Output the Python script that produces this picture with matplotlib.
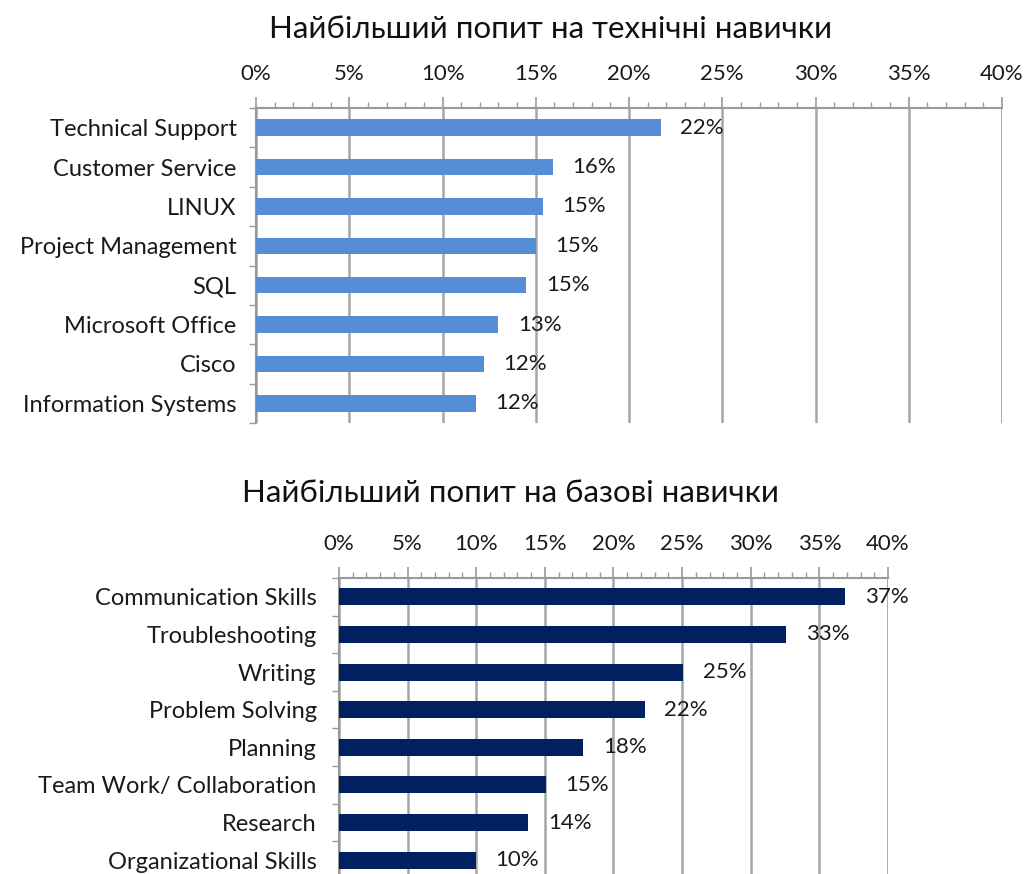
import numpy as np
import matplotlib.pyplot as plt
from matplotlib.ticker import MultipleLocator, FuncFormatter

plt.rcParams['font.family'] = ['Lato', 'DejaVu Sans']

tech_skills = ["Technical Support", "Customer Service", "LINUX", "Project Management",
               "SQL", "Microsoft Office", "Cisco", "Information Systems"]
tech_values = [21.7, 15.9, 15.4, 15.0, 14.5, 13.0, 12.2, 11.8]
tech_labels = ["22%", "16%", "15%", "15%", "15%", "13%", "12%", "12%"]

base_skills = ["Communication Skills", "Troubleshooting", "Writing", "Problem Solving",
               "Planning", "Team Work/ Collaboration", "Research", "Organizational Skills"]
base_values = [36.9, 32.6, 25.1, 22.3, 17.8, 15.1, 13.8, 10.0]
base_labels = ["37%", "33%", "25%", "22%", "18%", "15%", "14%", "10%"]

tech_title = "Найбільший попит на технічні навички"
base_title = "Найбільший попит на базові навички"

fs = 17
fig = plt.figure(figsize=(10.25, 8.74), dpi=100)


def draw(ax, names, vals, labs, color, bh, ypad):
    y = np.arange(len(names))
    ax.barh(y, vals, height=bh, color=color, zorder=3)
    for yi, v, t in zip(y, vals, labs):
        ax.annotate(t, (v, yi), xytext=(14, 0), textcoords='offset points',
                    va='center', ha='left', fontsize=fs - 1, color='#1a1a1a', zorder=4)
    ax.set_xlim(0, 40)
    ax.set_ylim(len(names) - 0.5, -0.5)
    ax.xaxis.tick_top()
    ax.xaxis.set_major_locator(MultipleLocator(5))
    ax.xaxis.set_minor_locator(MultipleLocator(1))
    ax.xaxis.set_major_formatter(FuncFormatter(lambda v, p: f"{v:.0f}%"))
    ax.tick_params(axis='x', which='major', length=8, width=1.2, color='#999999',
                   labelsize=fs - 1, labelcolor='#1a1a1a', pad=9)
    ax.tick_params(axis='x', which='minor', length=4, width=1, color='#999999')
    ax.set_yticks(y)
    ax.set_yticklabels(names)
    ax.set_yticks(np.arange(len(names) + 1) - 0.5, minor=True)
    ax.tick_params(axis='y', which='major', length=0, labelsize=fs,
                   labelcolor='#1a1a1a', pad=ypad)
    ax.tick_params(axis='y', which='minor', length=5, width=1, color='#999999')
    ax.grid(axis='x', which='major', color='#a6a6a6', linewidth=1.8, zorder=0)
    for s in ['bottom', 'right']:
        ax.spines[s].set_visible(False)
    for s in ['top', 'left']:
        ax.spines[s].set_color('#999999')
        ax.spines[s].set_linewidth(1.5)
    ax.set_axisbelow(True)


ax1 = fig.add_axes([0.2498, 0.516, 0.7278, 0.3604])
draw(ax1, tech_skills, tech_values, tech_labels, '#558ed5', 0.42, 14)
ax1.axvline(40, color='#a6a6a6', linewidth=1.8, zorder=0)

ax2 = fig.add_axes([0.3307, -0.0057, 0.5356, 0.3444])
draw(ax2, base_skills, base_values, base_labels, '#002060', 0.45, 16)
ax2.axvline(40, color='#a6a6a6', linewidth=1.8, zorder=0)

fig.text(0.537, 0.967, tech_title, ha='center', va='center', fontsize=22.5, color='#111111')
fig.text(0.498, 0.436, base_title, ha='center', va='center', fontsize=22.5, color='#111111')

fig.savefig('out.png', dpi=100)
